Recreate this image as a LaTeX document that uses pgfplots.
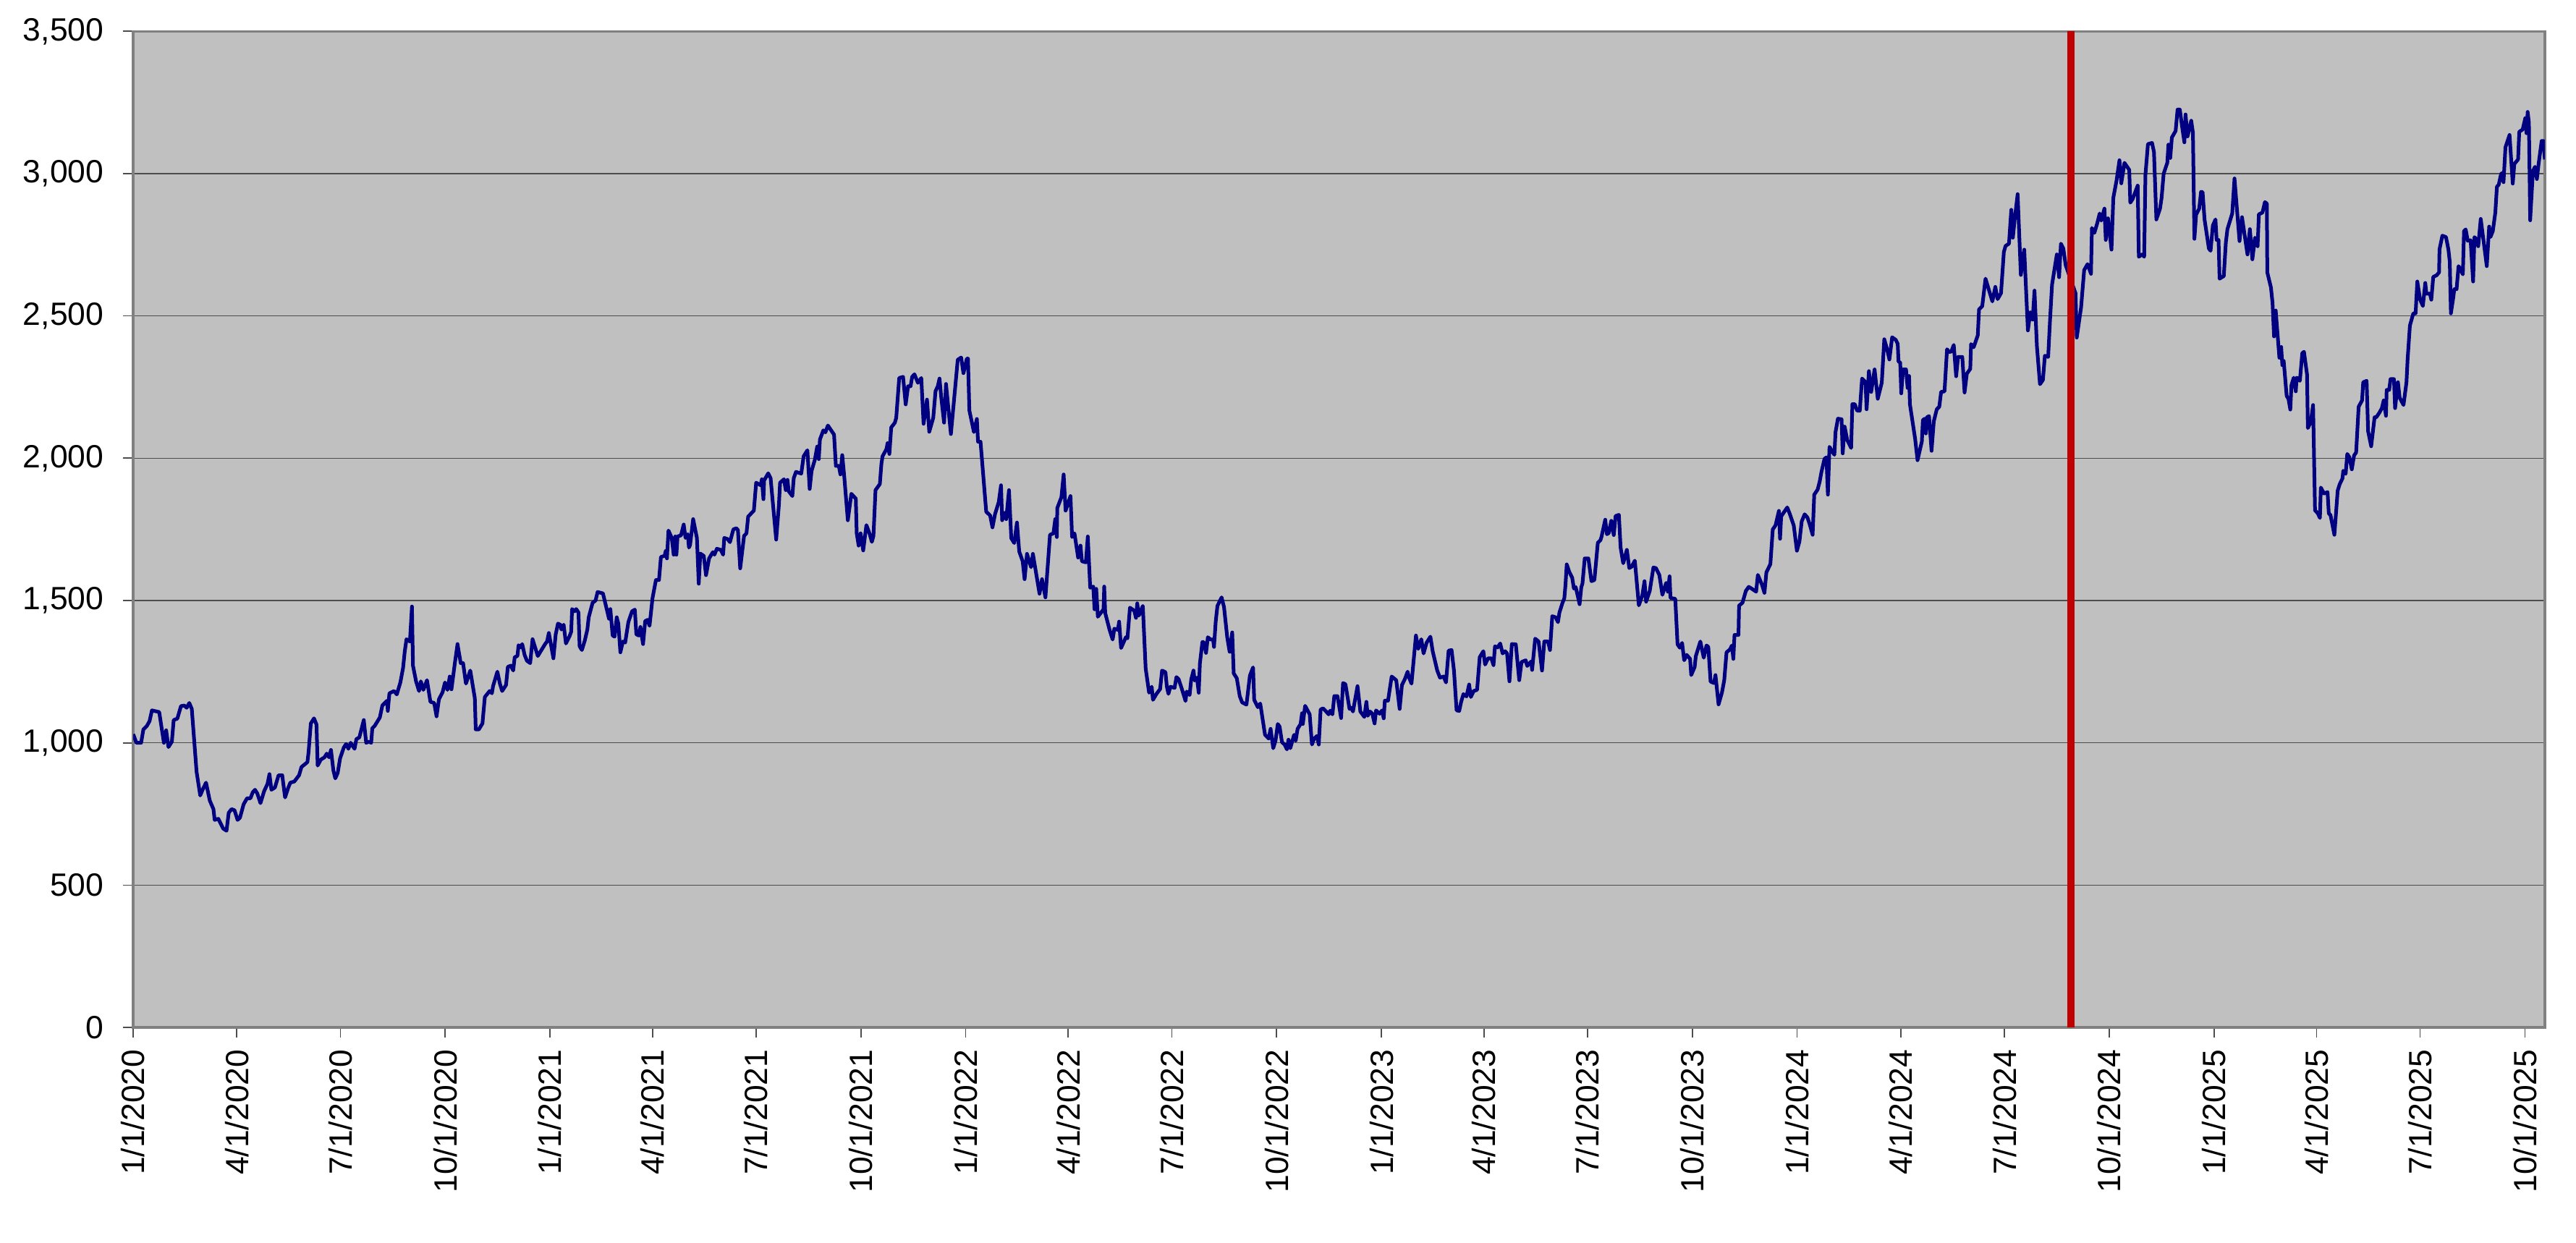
\documentclass[border=0pt]{standalone}
\usepackage{fontspec}
\setmainfont{Liberation Sans}
\usepackage{pgfplots}
\usepackage{pgfplotstable}
\pgfplotsset{compat=1.18}
\definecolor{plotbg}{HTML}{C0C0C0}
\definecolor{navyline}{HTML}{000080}
\definecolor{redline}{HTML}{C00000}
\definecolor{gridc}{HTML}{4D4D4D}
\definecolor{framec}{HTML}{808080}

\pgfplotstableread{
d v
0 1030
0.6 1025
2.8 1000
7 1000
9 1047
12 1059
14.4 1076
16.5 1114
22.9 1108
27 1000
29 1044
31 985
34 1004
35.6 1080
38.8 1085
42 1129
45 1131
47 1123
49.3 1140
51.5 1119
55.7 898
58.9 815
61 835
64 860
67.3 797
70.5 767
71.6 729
74.8 733
79 699
82 691
83.9 754
86.4 767
89 763
91.7 729
93.8 737
97 784
100 805
103 805
105 826
107 835
109 822
111.8 788
115 830
118 856
119.7 890
121.4 835
124.5 843
127.7 886
130.9 886
133.4 808
136 840
138 860
141.5 864
145.7 886
147.8 915
153 932
154 966
156 1068
158.8 1086
161 1064
162 920
164.8 941
168 949
170 962
172 949
173.7 975
175.8 903
177.5 875
179.6 894
181.7 945
184.9 983
187 996
189 979
191 1000
194.4 979
196 1013
198.6 1019
202.5 1080
204.6 1000
207 1004
209 1000
210 1051
212 1059
216.6 1089
218.8 1131
223 1148
223.6 1112
225 1174
229 1182
231.5 1170
234.6 1212
237 1263
238.5 1322
240 1364
243 1356
244.8 1479
245.7 1271
248.4 1216
251 1182
252.6 1216
254.8 1186
258 1220
261 1144
264.3 1140
266.4 1093
268.5 1153
271.7 1178
273.8 1212
276 1186
278 1233
279.5 1188
282.3 1275
284.8 1347
287.6 1280
289.7 1280
292.2 1208
296 1254
300 1157
300.8 1047
303.5 1047
306.7 1068
308.8 1161
313 1182
315 1174
316 1199
319.8 1250
322 1208
324 1182
327.4 1203
329 1267
331.6 1271
333.7 1254
335 1301
337.4 1305
338.4 1343
340.5 1335
341.6 1347
343.7 1309
345.8 1288
348.6 1280
350.7 1364
355.3 1305
358.5 1326
361.7 1347
363.4 1356
365 1386
369 1297
371 1381
373 1419
375 1415
376 1398
378 1415
380 1349
383 1373
384.6 1390
385.4 1470
387.5 1462
389 1470
391 1458
392 1339
394 1326
396.6 1360
398.8 1398
400 1441
403.4 1492
406 1500
407.8 1530
412.5 1525
414 1500
417.8 1436
419 1470
421 1377
422.7 1373
424.6 1441
426 1419
427.8 1318
430 1356
432 1352
434.8 1424
438 1462
440.5 1468
441.8 1381
444 1377
445.4 1407
447.7 1347
449.6 1428
451.7 1432
453.4 1411
456 1508
459 1572
461.7 1572
463.4 1653
466.6 1657
467.6 1674
468.7 1648
470 1746
472.9 1720
474.6 1661
476 1725
477 1661
478 1725
481 1729
483.4 1767
485 1720
487 1733
488 1686
489 1695
491.7 1786
495 1720
496.6 1559
498 1665
501 1657
503 1589
505.7 1648
509 1670
510.4 1661
512.5 1682
516 1678
518 1661
519 1720
522 1716
524 1705
527 1750
529.6 1754
531 1748
533 1613
536.4 1727
538.5 1736
540 1795
545 1816
547 1914
551 1905
552 1926
553.4 1856
554 1922
557.6 1947
559.7 1930
564.6 1714
567 1837
568 1914
571.4 1926
573 1888
574.5 1924
575.6 1884
578.8 1867
580 1930
582 1952
586.6 1946
588.7 2007
592 2028
594 1892
595.7 1956
598.5 1994
600.6 2041
602 1997
603 2066
606 2098
607.8 2091
610 2115
615.4 2083
617 1973
619.6 1973
621 1943
622.6 2011
624.3 1939
627.5 1782
630.6 1875
634.5 1858
635.3 1736
637 1693
638.7 1736
641 1676
643.8 1765
646.5 1736
648.6 1706
650 1727
651.8 1888
655.6 1909
657 1981
658 2007
661.4 2032
662.4 2053
664 2015
665.6 2108
668.8 2125
670 2142
672.6 2282
676 2286
678.3 2189
680.4 2253
682.6 2253
684 2286
686 2295
689 2265
692 2282
694 2121
697 2206
699 2093
702.5 2142
704.5 2236
706.5 2253
708 2280
709.5 2214
712 2125
713.7 2261
718 2085
724 2346
727 2354
729 2299
732 2350
733 2350
734.2 2168
738.2 2092
740.8 2138
741.8 2058
744 2058
749 1812
752.4 1799
754.5 1757
756.7 1803
760 1846
762 1905
763 1782
765 1808
766.6 1786
769 1888
771 1719
773.6 1702
776 1774
778 1672
781 1638
782.7 1575
784.8 1664
788.4 1617
790 1664
795.8 1524
798 1575
801 1511
805 1731
808 1736
809.6 1786
811 1723
811.4 1825
815 1863
817 1943
818.7 1816
823 1867
824.4 1723
826.5 1736
829.7 1651
831.8 1693
833 1638
836.5 1634
838.2 1725
840.3 1545
843 1549
844.1 1469
845.6 1541
847 1443
852 1469
852.6 1549
853.5 1456
857.3 1397
860 1363
861.5 1401
864.6 1397
865.7 1426
867.4 1333
871.6 1371
873 1367
875.2 1475
879 1464
880.5 1439
881.6 1490
883 1447
886.5 1481
889 1261
892 1176
894.3 1197
895.4 1151
898.5 1172
901.7 1189
903.4 1254
906.4 1248
907.6 1197
909 1172
910.7 1197
914.4 1193
916 1231
918 1223
920.8 1189
924 1147
925 1180
927.6 1168
929 1223
931 1254
932 1219
934 1229
935.6 1176
936.6 1278
938.8 1354
940 1354
942 1316
943.6 1371
946 1363
948.2 1363
949 1337
950.5 1426
952 1481
955.7 1511
957.8 1477
960.6 1371
962.7 1320
965 1388
966.3 1244
969 1227
971.6 1164
973.7 1142
977.5 1134
979 1185
980.5 1236
983.3 1265
984.3 1151
987.5 1125
989.6 1138
991.7 1083
993.8 1028
997 1015
998.7 1049
1001 981
1003 1007
1005 1066
1006.6 1057
1008.7 1002
1011 994
1013 977
1014.4 1011
1016 981
1019.3 1028
1020.7 1007
1022.4 1049
1025 1066
1026.3 1104
1027 1066
1029 1130
1033 1100
1035 994
1037 1015
1039.4 1024
1041 994
1042.6 1117
1044.7 1121
1046.8 1113
1049.6 1100
1051 1113
1053 1100
1054.6 1164
1057.4 1164
1060.6 1087
1062.3 1210
1064.4 1206
1068 1119
1069.5 1123
1071 1110
1075 1199
1077.5 1110
1081 1091
1082.8 1144
1084 1095
1086 1110
1088 1102
1090 1068
1091.3 1114
1094.4 1102
1096.6 1114
1098 1086
1099 1148
1101.8 1148
1105 1233
1109 1220
1112 1119
1114 1203
1116.7 1225
1119 1250
1120.3 1229
1122.4 1208
1126.3 1377
1128.3 1330
1131 1364
1133 1314
1135.7 1352
1139 1373
1141 1322
1145 1254
1147.4 1229
1150.6 1233
1152.7 1212
1155 1324
1157.6 1326
1159.7 1254
1162 1114
1164.3 1112
1166 1144
1168 1171
1170.7 1163
1173 1205
1174.5 1161
1177 1182
1180 1186
1182.3 1301
1185.5 1322
1187 1275
1189.7 1297
1192.5 1297
1194.4 1273
1195.7 1339
1198 1335
1200.3 1349
1202.4 1314
1204.6 1322
1206.3 1314
1208.4 1216
1210.5 1347
1214 1346
1217 1220
1219 1284
1222.7 1290
1224 1270
1227.5 1286
1228.3 1256
1231 1366
1234 1356
1237 1254
1239 1356
1242.3 1356
1244 1326
1246 1445
1249 1441
1251 1424
1252.3 1458
1255 1492
1256.6 1508
1257.6 1555
1258.7 1627
1260.8 1602
1263.5 1580
1265 1542
1266.6 1547
1270 1487
1271.5 1547
1272.5 1559
1274.5 1648
1277.7 1648
1280.4 1568
1283 1572
1286 1703
1288.3 1712
1289.3 1725
1292.5 1784
1294 1733
1295.6 1737
1297.8 1780
1300 1730
1301.6 1797
1304.5 1801
1306 1686
1308.3 1631
1311.5 1678
1313.6 1614
1315.7 1619
1318.5 1640
1322 1483
1325 1517
1327 1568
1328.4 1496
1331.6 1534
1334.8 1616
1337 1614
1340 1590
1342.7 1520
1346 1562
1347.5 1531
1349 1585
1349.8 1509
1354 1506
1356 1346
1358 1334
1360 1351
1361.8 1290
1364 1309
1367 1295
1368 1238
1371 1266
1372 1304
1376 1356
1379 1299
1381.4 1342
1383 1337
1385 1215
1388 1210
1389.3 1238
1392 1135
1395 1177
1397 1220
1399 1318
1402 1328
1403.7 1342
1405 1295
1406 1379
1409.5 1379
1410 1482
1413 1492
1416 1534
1418.5 1548
1420.6 1543
1425 1531
1426.5 1590
1430 1557
1432.3 1527
1434 1599
1437.5 1628
1439.6 1750
1442 1764
1445 1815
1446 1717
1447 1796
1452.3 1827
1454.4 1806
1458 1764
1460.8 1675
1463 1707
1465 1778
1467.6 1803
1470 1792
1472 1768
1474.6 1731
1476 1872
1479 1890
1480.8 1918
1482.3 1951
1485 1998
1486.7 2003
1488 1872
1489.4 2040
1491.5 2026
1493.7 2012
1494.7 2092
1496.8 2139
1500 2137
1501 2017
1502.7 2111
1505 2064
1508.4 2036
1509.5 2190
1511.6 2190
1513.7 2167
1516 2167
1518 2280
1521 2268
1522 2172
1524 2306
1526 2233
1529 2312
1531.8 2209
1535.3 2265
1537.5 2418
1540 2383
1542 2347
1544.4 2425
1547.6 2416
1549.3 2402
1550 2340
1551.5 2336
1552.4 2228
1554 2312
1556.6 2312
1558 2247
1559.3 2289
1560 2190
1564.6 2068
1566.7 1993
1570.5 2059
1571.4 2134
1573 2139
1574 2087
1575 2144
1576.8 2148
1579 2026
1581 2130
1583.6 2172
1585.8 2181
1587.4 2233
1590.4 2235
1592.6 2383
1594.3 2373
1596.4 2375
1598.5 2398
1600.6 2288
1602.3 2356
1606 2356
1608 2231
1610 2297
1613 2314
1613.7 2401
1616 2390
1619.6 2432
1620.7 2523
1623.5 2534
1626.4 2631
1632.4 2551
1635 2602
1637 2559
1640 2580
1642.5 2725
1644 2746
1647 2754
1649 2873
1650.4 2775
1652 2839
1654.6 2928
1657.4 2644
1660.4 2733
1663.6 2449
1665.7 2513
1667.8 2487
1669.4 2589
1671.5 2394
1674.2 2260
1676.8 2275
1678.5 2360
1681.4 2356
1683 2483
1684.8 2610
1689 2716
1691 2636
1692.6 2754
1694.7 2737
1696.8 2678
1705.4 2580
1706.5 2424
1710.3 2530
1713 2661
1716 2682
1719 2648
1719.8 2809
1722 2792
1724.5 2826
1726.6 2860
1728 2835
1730.8 2877
1732 2767
1734 2843
1737 2733
1738.6 2915
1741.4 2975
1744 3047
1745.6 2966
1748.4 3038
1752.6 3013
1753.5 2898
1755.6 2911
1760 2958
1761 2708
1764 2716
1765.7 2708
1766.8 2996
1769 3104
1772.6 3108
1774.3 3076
1776.4 2839
1779.6 2877
1781 2915
1782.8 3000
1786 3038
1787 3102
1788.6 3055
1790 3127
1793.3 3150
1795 3225
1797 3225
1799 3165
1801 3110
1802 3208
1803.8 3131
1807 3186
1808.5 3144
1809.8 2771
1811.3 2856
1814 2877
1815.6 2936
1817 2935
1818.7 2839
1822.5 2737
1824 2729
1826 2818
1828.3 2839
1829.3 2767
1831 2767
1831.9 2631
1835.6 2640
1837.4 2758
1838.8 2805
1843 2860
1845 2983
1849.4 2763
1851.6 2847
1856.4 2716
1858.5 2805
1860.7 2699
1863 2775
1865.3 2745
1866.4 2857
1869.5 2863
1871.7 2900
1873.4 2895
1873.8 2653
1877 2600
1878.4 2546
1879.7 2428
1881.2 2519
1884.4 2353
1886 2391
1887 2327
1888.2 2342
1890.8 2219
1892.4 2208
1894 2171
1895 2257
1897 2283
1898.8 2235
1899.6 2283
1902.4 2272
1904.5 2369
1906 2374
1908.7 2294
1909.4 2106
1912 2128
1914 2187
1915.7 1817
1918.2 1806
1920 1790
1920.8 1897
1923.6 1876
1926.7 1881
1927.8 1806
1929.3 1800
1932.7 1731
1935.6 1886
1937.3 1908
1939.8 1929
1940.5 1956
1942.6 1945
1944 2015
1945.8 2004
1948 1961
1950 2010
1951.8 2020
1954 2181
1957 2203
1958 2267
1961 2272
1962.3 2095
1965 2042
1968 2144
1969.5 2144
1972.2 2160
1974.4 2176
1976 2203
1978 2149
1978.6 2240
1980.8 2240
1982 2278
1985 2278
1986 2176
1988.5 2267
1990 2213
1993.4 2187
1996 2267
1997 2348
1999 2466
2002 2509
2004 2509
2005.5 2621
2008 2557
2010.4 2535
2012.5 2616
2013.5 2578
2016.6 2578
2017.8 2557
2019.5 2637
2022.5 2643
2024.6 2653
2025 2734
2027.5 2782
2030.7 2777
2032.8 2734
2034 2691
2035 2509
2037 2562
2038 2594
2040 2594
2041.7 2675
2043.4 2664
2045.5 2646
2046.5 2798
2048 2804
2049.8 2764
2052.3 2766
2054.5 2621
2055.7 2777
2057 2771
2059 2745
2061.2 2841
2066.5 2675
2068.6 2814
2069.7 2777
2071.8 2798
2074 2863
2075.4 2954
2077 2961
2078.6 2991
2079.5 3002
2081.2 2970
2082.9 3093
2086.5 3136
2089.3 2965
2090.7 3034
2094 3050
2095 3147
2098 3155
2100.3 3195
2101.4 3142
2102.4 3217
2103.5 3179
2104.6 2836
2107 3008
2108.8 3024
2110.5 2981
2112 3034
2114.7 3115
2116.2 3115
2117.5 3050
}\pricedata

\pgfplotstableread{
d v
1701.3 0
1701.3 3500
}\markerline

\begin{document}
\begin{tikzpicture}
\useasboundingbox (-55.2bp,-89.1bp) rectangle (1012.8bp,426bp);
\begin{axis}[
  at={(0,0)}, anchor=south west,
  scale only axis,
  width=999.9bp, height=413bp,
  xmin=0, xmax=2117.5,
  ymin=0, ymax=3500,
  axis background/.style={fill=plotbg},
  axis line style={draw=framec, line width=1bp},
  tick pos=left,
  tick align=outside,
  major tick length=4.3bp,
  major tick style={draw=gridc, line width=0.5bp},
  ymajorgrids,
  major grid style={draw=gridc, line width=0.45bp},
  ytick={0,500,1000,1500,2000,2500,3000,3500},
  yticklabels={0,500,{1,000},{1,500},{2,000},{2,500},{3,000},{3,500}},
  xtick={0,91,182,274,366,456,547,639,731,821,912,1004,1096,1186,1277,1369,1461,1552,1643,1735,1827,1917,2008,2100},
  xticklabels={1/1/2020,4/1/2020,7/1/2020,10/1/2020,1/1/2021,4/1/2021,7/1/2021,10/1/2021,1/1/2022,4/1/2022,7/1/2022,10/1/2022,1/1/2023,4/1/2023,7/1/2023,10/1/2023,1/1/2024,4/1/2024,7/1/2024,10/1/2024,1/1/2025,4/1/2025,7/1/2025,10/1/2025},
  tick label style={font=\fontsize{13.35bp}{16bp}\selectfont, text=black},
  xticklabel style={rotate=90, anchor=east, inner sep=0pt, inner xsep=4.7bp},
  yticklabel style={anchor=east, inner sep=0pt, inner xsep=7.7bp},
  clip=true,
]
\addplot[draw=navyline, line width=1.5bp, line join=round, no markers] table[x=d, y=v] {\pricedata};
\addplot[draw=redline, line width=3bp, no markers] table[x=d, y=v] {\markerline};
\end{axis}
\end{tikzpicture}
\end{document}
